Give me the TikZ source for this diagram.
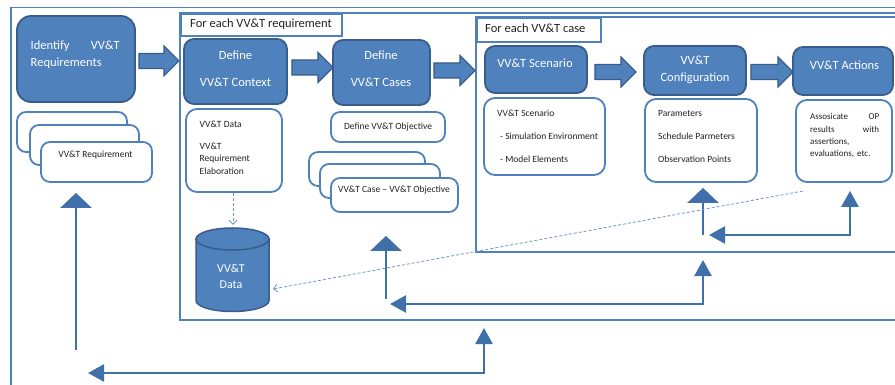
\documentclass[tikz,border=0pt]{standalone}
\usepackage{fontspec}
\setmainfont{Carlito}
\usetikzlibrary{arrows.meta,calc}

\definecolor{boxfill}{HTML}{4F81BD}
\definecolor{boxline}{HTML}{385D8A}
\definecolor{connblue}{HTML}{3F70AA}
\definecolor{dotblue}{HTML}{6F96CC}
\definecolor{inktext}{HTML}{222222}

\tikzset{
  darkbox/.style={draw=boxline, line width=1.8pt, fill=boxfill, rounded corners=10pt, inner sep=0pt},
  litebox/.style={draw=boxfill, line width=1.8pt, fill=white, rounded corners=11pt, inner sep=0pt},
  framebox/.style={draw=boxfill, line width=1.8pt},
  tabbox/.style={draw=boxfill, line width=1.8pt, fill=white, anchor=north west, inner sep=0pt},
  tabtext/.style={font=\fontsize{12.5}{15}\selectfont, text=inktext, inner sep=0pt, anchor=base west},
  darktext/.style={text=white, font=\fontsize{12.5}{17}\selectfont, inner sep=0pt, align=center},
  smalltext/.style={text=inktext, font=\fontsize{9.5}{12.3}\selectfont, inner sep=0pt, align=left},
  conn/.style={draw=connblue, line width=2.5pt},
  bigtip/.style={-{Triangle[length=15pt,width=31pt]}},
  smalltips/.style={{Triangle[length=16pt,width=17pt]}-{Triangle[length=16pt,width=17pt]}},
  dotconn/.style={draw=dotblue, line width=0.8pt, densely dashed, -{Straight Barb[length=4pt,width=8pt]}},
  blockarrowstyle/.style={fill=boxfill, draw=boxline, line width=1.2pt, line join=miter},
  pics/blockarrow/.style={code={
    \draw[blockarrowstyle] (0,-7.5) -- (#1-15,-7.5) -- (#1-15,-15) -- (#1,0)
      -- (#1-15,15) -- (#1-15,7.5) -- (0,7.5) -- cycle;}}
}

\begin{document}
\begin{tikzpicture}[x=1pt,y=-1pt]
\useasboundingbox (0,0) rectangle (895,385);
\clip (0,0) rectangle (895,385);

% nested loop frames
\draw[framebox] (11,7.5) rectangle (910,400);
\draw[framebox, fill=white] (180,13) rectangle (910,320);
\draw[framebox, fill=white] (476,17) rectangle (910,252);
\node[tabbox, minimum width=161pt, minimum height=22pt] (tabreq) at (180,13) {};
\node[tabtext] (tabreqT) at (190,28) {For each VV\&T requirement};
\node[tabbox, minimum width=124pt, minimum height=24pt] (tabcase) at (476,17) {};
\node[tabtext] (tabcaseT) at (485,33) {For each VV\&T case};

% main process steps
\node[darkbox, rounded corners=14pt, minimum width=118pt, minimum height=86pt] (req) at (76,59) {};
\node[darktext, text width=89pt, align=left, anchor=west] (reqT) at (30.5,55)
  {Identify\hfill VV\&T\\Requirements};
\node[darkbox, minimum width=103pt, minimum height=65pt] (ctx) at (235.5,71.5) {};
\node[darktext] (ctxT) at (235.5,68.5) {Define\\[10pt]VV\&T Context};
\node[darkbox, minimum width=97pt, minimum height=65pt] (cases) at (381.5,72.5) {};
\node[darktext] (casesT) at (381,68.5) {Define\\[10pt]VV\&T Cases};
\node[darkbox, minimum width=102pt, minimum height=47pt] (scen) at (536,69.5) {};
\node[darktext] (scenT) at (535,63) {VV\&T Scenario};
\node[darkbox, minimum width=102pt, minimum height=49pt] (conf) at (695,70.5) {};
\node[darktext, font=\fontsize{12.5}{16.5}\selectfont] (confT) at (695,70) {VV\&T\\Configuration};
\node[darkbox, minimum width=100pt, minimum height=48pt] (act) at (843,71) {};
\node[darktext] (actT) at (844.5,65) {VV\&T Actions};

% block arrows between steps
\pic at ($(req.east)+(3,2)$) {blockarrow=40};
\pic at ($(ctx.east)+(4,-4)$) {blockarrow=41};
\pic at ($(cases.east)+(3,-2)$) {blockarrow=41};
\pic at ($(scen.east)+(7,2.5)$) {blockarrow=41};
\pic at ($(conf.east)+(4,1.5)$) {blockarrow=42};

% requirement stack
\node[litebox, rounded corners=9pt, minimum width=110pt, minimum height=40pt] (rs1) at (72,132) {};
\node[litebox, rounded corners=9pt, minimum width=109pt, minimum height=40pt] (rs2) at (84.5,145) {};
\node[litebox, rounded corners=9pt, minimum width=111pt, minimum height=40pt] (rs3) at (96.5,162) {};
\node[smalltext] (rsT) at (95.5,154.5) {VV\&T Requirement};

% detail boxes
\node[litebox, minimum width=96pt, minimum height=83pt] (ctxd) at (234,150.5) {};
\node[smalltext, anchor=west] (ctxdT) at (199.5,147.5)
  {VV\&T Data\\[9.7pt]VV\&T\\Requirement\\Elaboration};
\node[litebox, rounded corners=9pt, minimum width=114pt, minimum height=30pt, smalltext] (obj) at (388,127)
  {Define VV\&T Objective};
\node[litebox, rounded corners=9pt, minimum width=116pt, minimum height=34pt] (cs1) at (367,169) {};
\node[litebox, rounded corners=9pt, minimum width=120pt, minimum height=34pt] (cs2) at (380,181) {};
\node[litebox, rounded corners=9pt, minimum width=127pt, minimum height=34pt] (cs3) at (394.5,195) {};
\node[smalltext] (csT) at (394,190) {VV\&T Case -- VV\&T Objective};
\node[litebox, minimum width=121pt, minimum height=77pt] (scend) at (544.5,136.5) {};
\node[smalltext, anchor=west, font=\fontsize{9.5}{23}\selectfont] (scendT) at (497,136)
  {VV\&T Scenario\\\hspace{3pt}- Simulation Environment\\\hspace{3pt}- Model Elements};
\node[litebox, minimum width=112pt, minimum height=83pt] (confd) at (701,140.5) {};
\node[smalltext, anchor=west, font=\fontsize{9.5}{23}\selectfont] (confdT) at (658,136)
  {Parameters\\Schedule Parmeters\\Observation Points};
\node[litebox, minimum width=96pt, minimum height=82pt] (actd) at (844,141) {};
\node[smalltext, anchor=west, text width=69pt, font=\fontsize{9}{12.2}\selectfont] (actdT) at (810,135.7)
  {Assosicate\hfill OP\\results\hfill with\\assertions,\\evaluations, etc.};

% data store
\draw[boxline, line width=1.5pt, fill=boxfill]
  (196,239) -- (196,300.5) arc[start angle=180, end angle=0, x radius=36.5, y radius=11]
  -- (269,239) -- cycle;
\draw[boxline, line width=1.5pt, fill=boxfill] (232.5,239) ellipse[x radius=36.5, y radius=11];
\node[inner sep=0pt, minimum width=73pt, minimum height=84pt] (data) at (232.5,270) {};
\node[darktext, font=\fontsize{12}{15.6}\selectfont] (dataT) at (231,276.7) {VV\&T\\Data};

% loose ends of the feedback connectors
\coordinate (reqtail) at (76,350);
\coordinate (outerL) at (88,373);
\coordinate (outerC) at (484,373);
\coordinate (outerT) at (484,328);
\coordinate (midL) at (390,304);
\coordinate (midC) at (703,304);
\coordinate (midT) at (703,260);
\coordinate (innL) at (709,235);
\coordinate (innC) at (850,235);
\coordinate (casestail) at (386,299);
\coordinate (conftail) at (703,235);
\coordinate (dashstart) at (803,191);
\coordinate (dashend) at (273,289);

% feedback connectors
\draw[conn, bigtip] (reqtail) -- ([yshift=-10pt]rs3.south -| reqtail);
\draw[conn, smalltips] (outerL) -- (outerC) -- (outerT);
\draw[conn, smalltips] (midL) -- (midC) -- (midT);
\draw[conn, smalltips] (innL) -- (innC) -- ([yshift=-8pt]actd.south -| innC);
\draw[conn, bigtip] (casestail) -- ([yshift=-23pt]cs3.south -| casestail);
\draw[conn, bigtip] (conftail) -- ([yshift=-5pt]confd.south -| conftail);

% data flow into the store
\draw[dotconn] (ctxd.south -| 233,0) -- ([yshift=3pt]data.north -| 233,0);
\draw[dotconn] (dashstart) -- (dashend);
\end{tikzpicture}
\end{document}
